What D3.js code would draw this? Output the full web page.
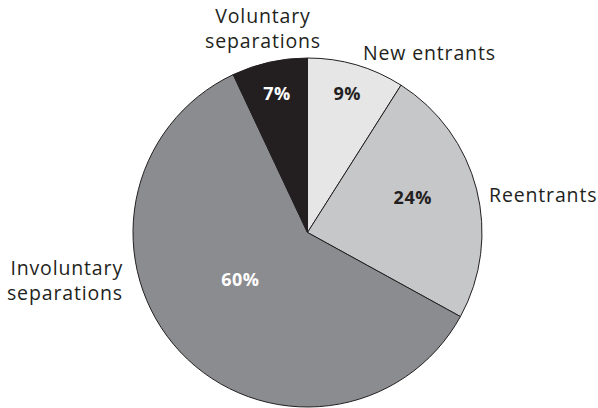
<!DOCTYPE html>
<html><head><meta charset="utf-8">
<script src="https://cdn.jsdelivr.net/npm/d3@7"></script>
<style>body{margin:0;background:#fff}svg{display:block}text{font-family:"Open Sans",sans-serif}</style>
</head><body><svg id="c" width="598" height="408"></svg>
<script>
const categories = ["New entrants", "Reentrants", "Involuntary separations", "Voluntary separations"];
const values = [9, 24, 60, 7];
const colors = ["#e6e6e7", "#c6c7c9", "#8b8c8f", "#231f20"];
const pctColors = ["#231f20", "#231f20", "#ffffff", "#ffffff"];
// label layout (not data): category label lines, anchor, x, y baseline of first line
const catLayout = [
  {lines:["New entrants"], anchor:"start", x:363, y:60},
  {lines:["Reentrants"], anchor:"start", x:489, y:202},
  {lines:["Involuntary","separations"], anchor:"end", x:123, y:275},
  {lines:["Voluntary","separations"], anchor:"middle", x:263, y:23}
];
// percent label placement: radius and angle (deg) from center
const pctLayout = [{r:144,a:16},{r:111,a:71.5},{r:82,a:235},{r:142,a:-12.4}];

const svg = d3.select("#c");
const cx = 307.5, cy = 232.5, R = 174.5;
const g = svg.append("g").attr("transform", `translate(${cx},${cy})`);
const pie = d3.pie().sort(null).value(d => d)(values);
const arc = d3.arc().innerRadius(0).outerRadius(R);
g.selectAll("path").data(pie).join("path")
  .attr("d", arc).attr("fill", (d,i) => colors[i])
  .attr("stroke", "#231f20").attr("stroke-width", 1);

g.selectAll("text.pct").data(pie).join("text").attr("class","pct")
  .attr("x", (d,i) => pctLayout[i].r*Math.sin(pctLayout[i].a*Math.PI/180))
  .attr("y", (d,i) => -pctLayout[i].r*Math.cos(pctLayout[i].a*Math.PI/180))
  .attr("dy", "0.35em")
  .attr("text-anchor","middle").attr("font-weight","bold").attr("font-size",18)
  .attr("letter-spacing", 0.5)
  .attr("fill", (d,i) => pctColors[i])
  .text(d => d.data + "%");

categories.forEach((c,i) => {
  const L = catLayout[i];
  const t = svg.append("text").attr("text-anchor", L.anchor).attr("font-size", 19.5)
    .attr("letter-spacing", 0.85).attr("fill","#231f20");
  L.lines.forEach((ln,j) => t.append("tspan").attr("x", L.x).attr("y", L.y + j*24.5).text(ln));
});
</script></body></html>
